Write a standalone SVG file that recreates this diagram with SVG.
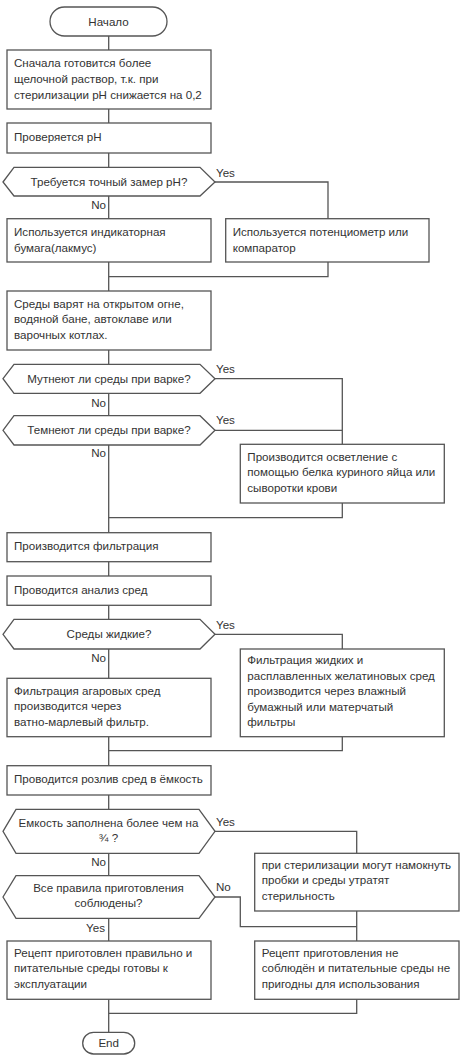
<svg xmlns="http://www.w3.org/2000/svg" width="464" height="1064" viewBox="0 0 464 1064">
<style>
.b{fill:#fff;stroke:#555;stroke-width:1.3}
.c{fill:none;stroke:#555;stroke-width:1.3}
text{font-family:"Liberation Sans",Arial,sans-serif;font-size:11.6px;fill:#333}
.m{text-anchor:middle}
.e{text-anchor:end}
</style>
<rect width="464" height="1064" fill="#fff"/>
<g id="connectors">
<path class="c" d="M108.7 36V50M108.7 109V123M108.7 153V167"/>
<path class="c" d="M108.7 196V219M215 182H328V219"/>
<path class="c" d="M108.7 262V291M328 262V276.7H108.7"/>
<path class="c" d="M108.7 350V364.3M108.7 393.3V415.7M108.7 445V532.7"/>
<path class="c" d="M215 378.7H342.3V444.3M215 430.3H342.3M342.3 503V517.7H108.7"/>
<path class="c" d="M108.7 561.7V576M108.7 605.3V619.3M108.7 649V678.3M215 634.3H342.3V649"/>
<path class="c" d="M108.7 736.7V765.7M342.3 736.7V750.7H108.7M108.7 795V809.3"/>
<path class="c" d="M215 831.3H356.7V853.3M108.7 853.3V875.7M108.7 918.3V941"/>
<path class="c" d="M215 897H240.3V926.7H356.7M356.7 911V941"/>
<path class="c" d="M108.7 999.3V1032.3M356.7 999.3V1013.3H108.7"/>
</g>
<g id="start"><rect class="b" x="50" y="7" width="117" height="29" rx="14.5"/><text class="m" x="108.5" y="25.5">Начало</text></g>
<g id="n1"><rect class="b" x="7" y="50" width="204" height="59"/><text x="14" y="67">Сначала готовится более</text><text x="14" y="83">щелочной раствор, т.к. при</text><text x="14" y="98.5">стерилизации pH снижается на 0,2</text></g>
<g id="n2"><rect class="b" x="7" y="123" width="204" height="30"/><text x="14" y="141">Проверяется pH</text></g>
<g id="d1"><polygon class="b" points="3,182 14,167.3 200,167.3 215,182 200,196 14,196"/><text class="m" x="109" y="185.5">Требуется точный замер pH?</text><text x="216" y="177">Yes</text><text class="e" x="106" y="209">No</text></g>
<g id="n3"><rect class="b" x="7" y="218.7" width="204" height="43.3"/><text x="14" y="236">Используется индикаторная</text><text x="14" y="252">бумага(лакмус)</text></g>
<g id="n4"><rect class="b" x="225.7" y="218.7" width="203.3" height="43.3"/><text x="232.7" y="236">Используется потенциометр или</text><text x="232.7" y="252">компаратор</text></g>
<g id="n5"><rect class="b" x="7" y="291" width="204" height="59"/><text x="14" y="308">Среды варят на открытом огне,</text><text x="14" y="323.3">водяной бане, автоклаве или</text><text x="14" y="338.5">варочных котлах.</text></g>
<g id="d2"><polygon class="b" points="3,378.7 14,364.3 200,364.3 215,378.7 200,393.3 14,393.3"/><text class="m" x="109" y="382.5">Мутнеют ли среды при варке?</text><text x="216" y="373">Yes</text><text class="e" x="106" y="406.7">No</text></g>
<g id="d3"><polygon class="b" points="3,430.3 14,415.7 200,415.7 215,430.3 200,445 14,445"/><text class="m" x="109" y="434">Темнеют ли среды при варке?</text><text x="216" y="424.3">Yes</text><text class="e" x="106" y="457.3">No</text></g>
<g id="n6"><rect class="b" x="240.3" y="444.3" width="204" height="58.7"/><text x="247.3" y="461">Производится осветление с</text><text x="247.3" y="476.3">помощью белка куриного яйца или</text><text x="247.3" y="491.7">сыворотки крови</text></g>
<g id="n7"><rect class="b" x="7" y="532.7" width="204" height="29"/><text x="14" y="549.5">Производится фильтрация</text></g>
<g id="n8"><rect class="b" x="7" y="576" width="204" height="29.3"/><text x="14" y="593.5">Проводится анализ сред</text></g>
<g id="d4"><polygon class="b" points="3,634.3 14,619.3 200,619.3 215,634.3 200,649 14,649"/><text class="m" x="109" y="638">Среды жидкие?</text><text x="216" y="629">Yes</text><text class="e" x="106" y="661.7">No</text></g>
<g id="n9"><rect class="b" x="240.3" y="649" width="204" height="87.7"/><text x="247.3" y="664.3">Фильтрация жидких и</text><text x="247.3" y="680">расплавленных желатиновых сред</text><text x="247.3" y="695.3">производится через влажный</text><text x="247.3" y="710.5">бумажный или матерчатый</text><text x="247.3" y="725.7">фильтры</text></g>
<g id="n10"><rect class="b" x="7" y="678.3" width="204" height="58.4"/><text x="14" y="694.5">Фильтрация агаровых сред</text><text x="14" y="710">производится через</text><text x="14" y="725.7">ватно-марлевый фильтр.</text></g>
<g id="n11"><rect class="b" x="7" y="765.7" width="204" height="29.3"/><text x="14" y="782.5">Проводится розлив сред в ёмкость</text></g>
<g id="d5"><polygon class="b" points="3,831.3 16,809.3 199,809.3 215,831.3 199,853.3 16,853.3"/><text class="m" x="108.5" y="826.7">Емкость заполнена более чем на</text><text class="m" x="108.5" y="841.7">¾ ?</text><text x="216" y="825.7">Yes</text><text class="e" x="106" y="865.7">No</text></g>
<g id="n12"><rect class="b" x="254.7" y="853.3" width="204.3" height="57.7"/><text x="261.7" y="869">при стерилизации могут намокнуть</text><text x="261.7" y="884.3">пробки и среды утратят</text><text x="261.7" y="900">стерильность</text></g>
<g id="d6"><polygon class="b" points="3,897 16,875.7 199,875.7 215,897 199,918.3 16,918.3"/><text class="m" x="108.5" y="891.7">Все правила приготовления</text><text class="m" x="108.5" y="906.7">соблюдены?</text><text x="216" y="890.7">No</text><text class="e" x="105" y="931.7">Yes</text></g>
<g id="n13"><rect class="b" x="7" y="941" width="204" height="58.3"/><text x="14" y="956.7">Рецепт приготовлен правильно и</text><text x="14" y="972.3">питательные среды готовы к</text><text x="14" y="987.7">эксплуатации</text></g>
<g id="n14"><rect class="b" x="254.7" y="941" width="204.3" height="58.3"/><text x="261.7" y="956.7">Рецепт приготовления не</text><text x="261.7" y="972.3">соблюдён и питательные среды не</text><text x="261.7" y="987.7">пригодны для использования</text></g>
<g id="end"><rect class="b" x="82.7" y="1032.3" width="52" height="21.7" rx="10.85"/><text class="m" x="108.7" y="1047">End</text></g>
</svg>
